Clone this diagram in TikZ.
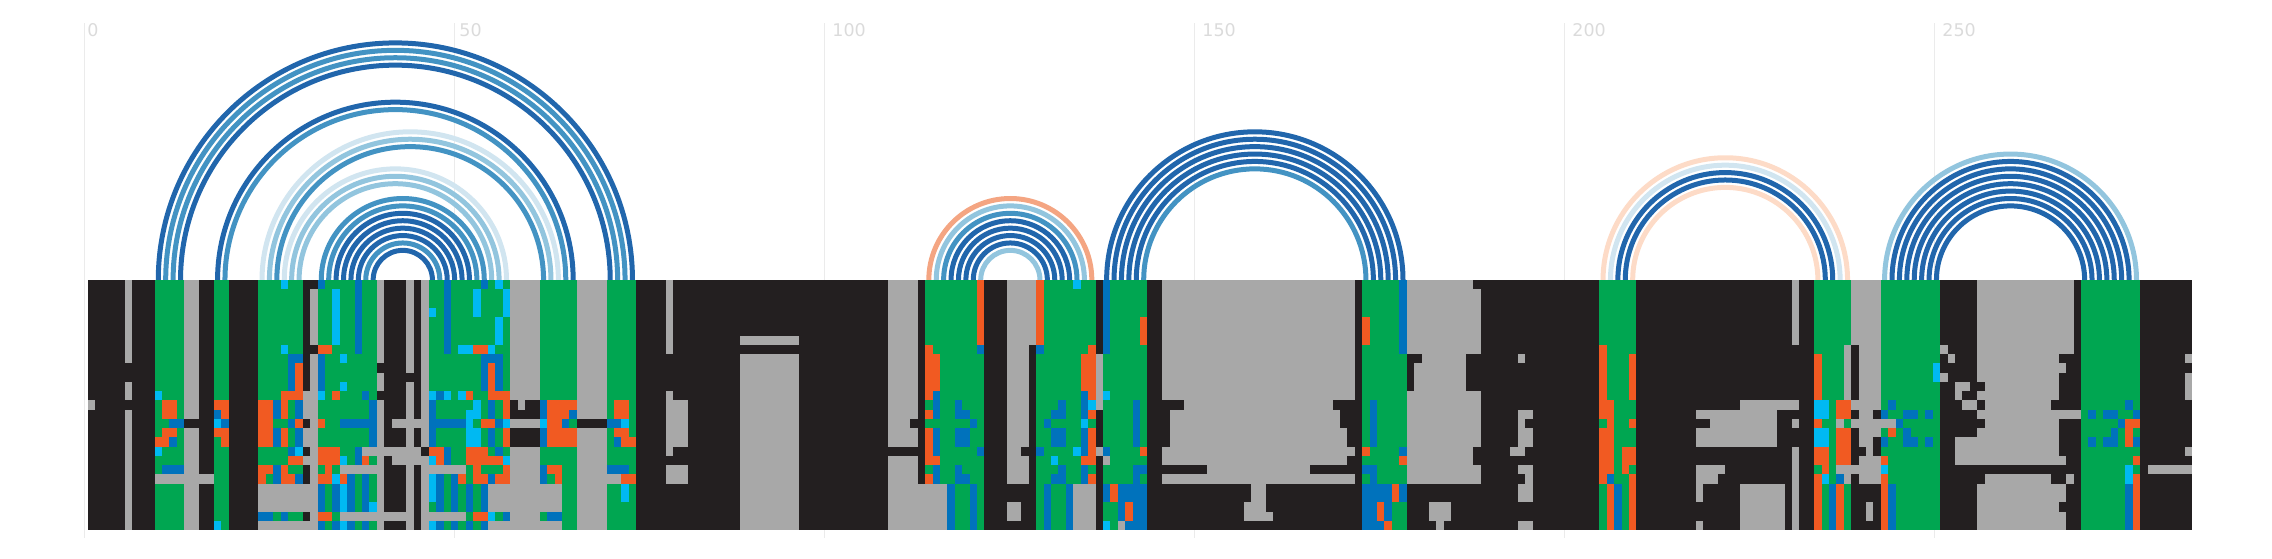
\documentclass[tikz,border=0pt]{standalone}
\usepackage{fontspec}
\setmainfont{DejaVu Sans}

\definecolor{cellblack}{HTML}{231F20}
\definecolor{cellgray}{HTML}{A8A8A8}
\definecolor{cellgreen}{HTML}{00A651}
\definecolor{cellblue}{HTML}{0072BC}
\definecolor{cellcyan}{HTML}{00B9F2}
\definecolor{cellorange}{HTML}{F15A22}
\definecolor{arcdark}{HTML}{2166AC}
\definecolor{arcmid}{HTML}{4393C3}
\definecolor{arcsky}{HTML}{92C5DE}
\definecolor{arcpale}{HTML}{D1E5F0}
\definecolor{arcsalmon}{HTML}{F4A582}
\definecolor{arcpeach}{HTML}{FDDBC7}

% inclusive columns and rows: first col/last col/first row/last row
\newcommand{\alncells}[2]{\foreach \a/\b/\c/\d in {#2}{\fill[#1] (\a,\c) rectangle ({\b+1},{\d+1});}}

\begin{document}
\begin{tikzpicture}[x=0.5pt,y=0.5pt]
    \tikzstyle{grid line}=[draw=black!8,line width=0.7pt]
    \tikzstyle{tick label}=[text=black!14,anchor=base west,inner sep=0,font=\fontsize{8.75}{10}\selectfont]
    \tikzstyle{arc line}=[line width=2.5pt]

    \useasboundingbox (0,0) rectangle (2272,558);

    % ticks
    \foreach \t/\dx in {0/2.4,50/4.5,100/7.5,150/7.5,200/7.5,250/7.5}{
        \coordinate (top\t) at ({84.5+7.4*\t},535);
        \coordinate (bot\t) at ({84.5+7.4*\t},20);
        \draw[grid line] (top\t) -- (bot\t);
        \node[tick label] (tick\t) at ({84.5+\dx+7.4*\t},521.3) {\t};
    }

    % base pairs
    \foreach \a/\b/\col in {
        9/73/arcdark,10/72/arcmid,11/71/arcmid,12/70/arcdark,
        17/65/arcdark,18/64/arcmid,
        23/63/arcpale,24/62/arcsky,25/61/arcmid,
        26/56/arcpale,27/55/arcsky,28/54/arcsky,
        31/53/arcmid,32/52/arcmid,33/51/arcdark,34/50/arcdark,35/49/arcdark,36/48/arcdark,37/47/arcmid,38/46/arcdark,
        113/135/arcsalmon,114/134/arcsky,115/133/arcmid,116/132/arcdark,117/131/arcdark,118/130/arcdark,119/129/arcdark,120/128/arcsky,
        137/177/arcdark,138/176/arcdark,139/175/arcdark,140/174/arcdark,141/173/arcdark,142/172/arcmid,
        204/237/arcpeach,205/236/arcpale,206/235/arcdark,207/234/arcdark,208/233/arcpeach,
        242/276/arcsky,243/275/arcdark,244/274/arcdark,245/273/arcdark,246/272/arcdark,247/271/arcdark,248/270/arcdark,249/269/arcdark}{
        \pgfmathsetmacro{\rad}{(\b-\a)*3.7045}
        \draw[arc line,draw=\col] ({87.9+7.409*(\a+0.5)},278) arc (180:0:\rad);
    }

    % alignment
    \begin{scope}[shift={(87.9,278)},x=3.7045pt,y=-4.63pt]
        \fill[cellblack] (0,0) rectangle (284,27);

        % gray behind the stems
        \alncells{cellgray}{0/0/13/13,5/5/0/8,5/5/11/12,5/5/14/26,13/14/0/14,13/14/16/26,
            29/29/12/14,29/29/16/17,29/29/19/19,30/30/1/6,30/30/8/26,
            39/39/0/8,39/39/10/11,39/39/13/26,43/43/0/9,43/43/11/26,45/45/0/17,45/45/19/26,
            57/60/0/12,57/60/15/15,57/60/18/21,57/60/25/25,58/58/13/13,66/69/0/14,66/69/16/26,
            78/78/0/7,78/78/12/12,78/80/13/17,78/78/18/18,78/80/20/21,
            88/95/6/6,88/95/8/26,
            108/111/0/14,108/110/15/15,108/111/16/17,108/111/19/21,
            124/127/0/6,124/126/7/17,124/125/18/18,124/126/19/21,124/125/24/25,
            136/136/8/13,136/136/18/18,
            145/170/0/12,148/167/13/13,146/168/14/15,146/169/16/17,145/170/18/18,145/169/19/19,
            151/164/20/20,145/170/21/21,157/158/22/23,156/158/24/24,156/159/25/25,
            178/186/0/0,178/187/1/7,180/185/8/8,179/185/9/11,178/187/12/17,178/186/18/19,178/187/20/21,
            181/183/24/25,182/182/26/26,
            193/193/8/8,193/194/14/14,193/193/15/15,193/194/16/17,192/193/18/18,193/194/20/20,
            194/194/21/21,193/194/22/23,193/194/26/26,
            223/230/13/13,217/227/14/14,219/227/15/15,230/230/15/15,217/227/16/17,217/220/20/20,
            217/219/21/21,217/217/22/23,217/217/26/26,223/228/22/26,230/230/0/6,230/230/18/26,
            238/241/0/6,239/241/7/12,238/241/13/13,239/240/14/14,239/241/16/16,239/240/17/17,
            240/240/18/18,239/241/19/19,239/241/21/21,240/240/24/25,
            250/250/7/7,251/251/8/8,250/250/10/10,252/253/11/11,252/252/12/12,253/254/13/13,
            255/267/0/7,255/265/8/8,255/266/9/9,255/265/10/10,256/265/11/11,255/265/12/12,
            256/264/13/13,255/268/14/14,256/265/15/15,255/265/16/16,252/265/17/18,252/266/19/19,
            256/264/21/21,267/267/21/21,255/266/22/23,255/265/24/24,255/266/25/26,
            283/283/8/8,283/283/10/12,283/283/18/18,278/283/20/20}

        % stems
        \alncells{cellgreen}{9/12/0/26,17/18/0/26,23/28/0/25,31/38/0/26,46/56/0/26,61/65/0/26,70/73/0/26,
            113/120/0/26,128/135/0/26,137/142/0/26,172/177/0/26,204/208/0/26,233/237/0/26,
            242/249/0/26,269/276/0/26}

        % gray over the stems
        \alncells{cellgray}{9/16/21/21,23/30/22/24,23/30/26/26,37/44/18/18,41/45/15/15,41/45/19/19,
            34/39/20/20,45/50/20/20,34/43/25/25,45/50/25/25,54/63/22/24,54/63/26/26,66/71/21/21,
            108/115/22/26,133/135/22/26,137/137/19/19,139/139/26/26,
            237/237/7/12,236/236/15/15,238/243/15/15,236/241/20/20,237/237/21/21}

        \alncells{cellblue}{11/12/15/15,11/11/17/17,10/12/20/20,17/17/14/14,18/18/15/15,
            27/28/8/8,27/27/9/11,25/25/13/14,28/28/13/14,27/27/15/15,25/25/16/17,28/28/16/17,27/27/18/18,
            25/25/20/21,28/28/21/21,23/24/25/25,26/26/25/25,
            31/31/0/0,36/36/0/7,31/31/8/11,37/37/12/12,38/38/13/14,34/38/15/15,38/38/16/17,36/36/18/19,
            35/35/21/21,37/37/21/21,31/31/22/24,33/33/22/24,35/35/22/24,37/37/22/24,
            31/31/26/26,33/33/26/26,35/35/26/26,37/37/26/26,
            48/48/0/7,53/53/0/0,53/55/8/8,53/53/9/11,55/55/9/11,47/47/12/12,46/46/13/14,54/54/13/14,
            46/50/15/15,55/55/15/15,46/46/16/17,54/54/16/17,48/48/18/19,55/55/18/18,
            47/47/21/21,49/49/21/21,54/54/21/21,47/47/22/24,49/49/22/24,51/51/22/24,53/53/22/24,56/56/25/25,
            47/47/26/26,49/49/26/26,51/51/26/26,53/53/26/26,
            61/61/13/14,65/65/14/14,64/64/15/15,61/61/16/17,61/61/20/21,62/63/25/25,
            70/71/15/15,71/71/17/17,70/72/20/20,
            120/120/7/7,114/114/12/14,117/117/13/13,117/118/14/14,119/119/15/15,114/114/16/18,117/118/16/17,
            120/120/18/18,114/114/20/21,117/117/20/20,117/118/21/21,116/116/22/26,119/119/22/26,
            128/128/7/7,134/134/12/14,131/131/13/13,130/131/14/14,129/129/15/15,130/131/16/17,134/134/16/18,
            128/128/18/18,131/131/20/20,134/134/20/21,130/131/21/21,129/129/22/26,132/132/22/26,
            137/137/0/7,141/141/13/17,137/137/18/18,141/142/20/20,141/141/21/21,137/137/22/23,139/142/22/23,
            139/139/24/25,141/142/24/25,140/142/26/26,
            177/177/0/7,173/173/13/17,177/177/18/18,172/173/20/20,173/173/21/21,172/175/22/23,177/177/22/23,
            172/173/24/25,175/175/24/25,172/174/26/26,
            205/205/21/21,206/206/22/26,235/235/22/26,236/236/21/21,
            243/243/13/13,242/242/14/14,245/246/14/14,248/248/14/14,244/244/15/15,245/245/16/16,
            242/242/17/17,245/246/17/17,248/248/17/17,243/243/22/26,
            275/275/13/13,270/270/14/14,272/273/14/14,276/276/14/14,274/274/15/15,273/273/16/16,
            270/270/17/17,272/273/17/17,276/276/17/17,275/275/22/26}

        \alncells{cellcyan}{9/9/12/12,9/9/18/18,17/17/15/15,17/17/26/26,26/26/0/0,26/26/7/7,28/28/18/18,
            33/33/1/6,34/34/8/8,34/34/11/11,31/31/12/12,34/34/19/19,33/33/21/21,34/34/22/24,34/34/26/26,38/38/24/24,
            55/55/0/0,52/52/1/3,56/56/1/3,46/46/3/3,55/55/4/6,50/51/7/7,54/54/7/7,46/46/12/12,48/48/12/12,50/50/12/12,
            52/52/13/13,51/52/14/14,51/51/15/15,56/56/15/15,51/52/16/17,46/46/19/19,56/56/19/19,46/46/21/23,
            54/54/25/25,46/46/26/26,61/61/15/15,72/72/15/15,72/72/22/23,
            133/133/0/0,135/135/13/13,134/134/15/15,133/133/18/18,130/130/19/19,137/137/12/12,137/137/26/26,
            233/234/13/14,233/234/16/17,234/234/21/21,249/249/9/10,242/242/20/20,275/275/20/21}

        \alncells{cellorange}{10/11/13/14,10/11/16/16,9/10/17/17,17/18/13/13,18/18/14/14,17/18/16/16,18/18/17/17,
            28/28/9/11,26/28/12/12,23/24/13/17,26/26/13/14,28/28/15/15,26/26/16/17,27/28/19/19,23/24/20/20,
            26/26/20/20,23/23/21/21,26/27/21/21,
            31/32/7/7,33/33/12/12,31/31/15/15,31/33/18/19,37/37/19/19,32/32/20/20,31/32/21/21,34/34/21/21,31/32/25/25,
            52/53/7/7,54/54/9/11,51/51/12/12,54/56/12/12,56/56/13/14,53/54/15/15,56/56/16/17,46/47/18/18,51/53/18/18,
            47/47/19/19,51/55/19/19,52/52/20/20,56/56/20/20,50/50/21/21,52/53/21/21,55/56/21/21,52/53/25/25,
            62/65/13/13,62/64/14/14,62/63/15/15,62/65/16/17,62/63/20/20,63/63/21/21,
            71/72/13/14,71/72/16/16,72/73/17/17,72/73/21/21,
            120/120/0/6,113/113/7/7,113/114/8/11,113/113/12/12,113/113/14/14,113/113/16/18,113/114/19/19,113/113/21/21,
            128/128/0/6,135/135/7/7,134/135/8/11,135/135/12/12,135/135/14/14,135/135/16/18,134/135/19/19,135/135/21/21,
            142/142/4/6,142/142/18/18,138/138/22/23,140/140/24/25,
            172/172/4/6,172/172/18/18,177/177/19/19,176/176/22/23,174/174/24/25,175/175/26/26,
            204/204/7/12,208/208/8/12,204/205/13/14,205/205/15/15,208/208/15/15,204/205/16/20,207/208/18/19,
            207/207/20/20,204/204/21/21,208/208/21/21,205/205/22/26,208/208/22/26,
            233/233/8/12,236/237/13/14,233/233/15/15,236/237/16/19,233/234/18/19,234/234/20/20,233/233/21/21,
            233/233/22/26,236/236/22/26,
            243/243/16/16,242/242/19/19,242/242/21/26,
            275/276/15/15,275/275/16/17,276/276/19/19,276/276/21/26}
    \end{scope}
\end{tikzpicture}
\end{document}
